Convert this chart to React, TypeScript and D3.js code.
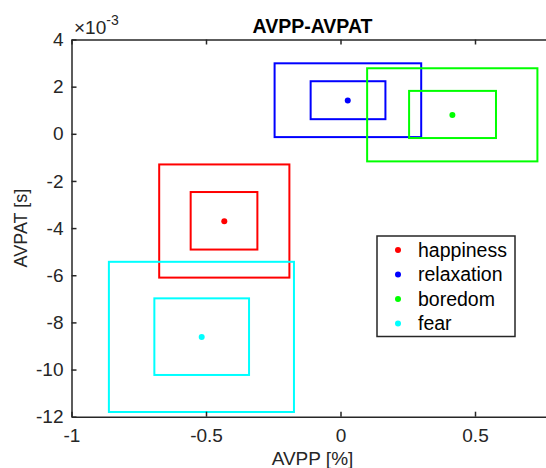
import * as d3 from 'd3';
import { useRef, useEffect } from 'react';

// per-emotion summary, AVPP in %, AVPAT in seconds
const emotions = ['happiness', 'relaxation', 'boredom', 'fear'];
const colors = ['#ff0000', '#0000ff', '#00ff00', '#00ffff'];

const meanX = [-0.432, 0.027, 0.416, -0.516];
const meanY = [-0.00371, 0.00141, 0.0008, -0.00862];

// inner box
const innerX0 = [-0.557, -0.111, 0.255, -0.692];
const innerX1 = [-0.309, 0.167, 0.578, -0.34];
const innerY0 = [-0.00491, 0.00062, -0.00018, -0.01023];
const innerY1 = [-0.00247, 0.00223, 0.00182, -0.00698];

// outer box
const outerX0 = [-0.674, -0.245, 0.099, -0.861];
const outerX1 = [-0.19, 0.3, 0.732, -0.173];
const outerY0 = [-0.0061, -0.00014, -0.00117, -0.0118];
const outerY1 = [-0.0013, 0.00299, 0.00278, -0.00543];

// the right part of the axes (x = 1) is cropped off in the figure
const xTicks = [-1, -0.5, 0, 0.5];
const yTicks = [-0.012, -0.01, -0.008, -0.006, -0.004, -0.002, 0, 0.002, 0.004];

function App() {
    const svgRef = useRef(null);
    const width = 546;
    const height = 468;

    useEffect(() => {
        const svg = d3.select(svgRef.current);
        svg.selectAll('*').remove();

        const font = '"Liberation Sans", Arial, Helvetica, sans-serif';
        const axisColor = '#262626';

        const x = d3.scaleLinear().domain([-1, 1]).range([71.5, 609.5]);
        const y = d3.scaleLinear().domain([-0.012, 0.004]).range([416.7, 39.5]);

        const g = svg.append('g');

        // Boxes and means
        emotions.forEach((name, i) => {
            g.append('rect')
                .attr('x', x(outerX0[i]))
                .attr('y', y(outerY1[i]))
                .attr('width', x(outerX1[i]) - x(outerX0[i]))
                .attr('height', y(outerY0[i]) - y(outerY1[i]))
                .attr('fill', 'none')
                .attr('stroke', colors[i])
                .attr('stroke-width', 2);
            g.append('rect')
                .attr('x', x(innerX0[i]))
                .attr('y', y(innerY1[i]))
                .attr('width', x(innerX1[i]) - x(innerX0[i]))
                .attr('height', y(innerY0[i]) - y(innerY1[i]))
                .attr('fill', 'none')
                .attr('stroke', colors[i])
                .attr('stroke-width', 2);
            g.append('circle')
                .attr('cx', x(meanX[i]))
                .attr('cy', y(meanY[i]))
                .attr('r', 3)
                .attr('fill', colors[i]);
        });

        // Axes (ticks point inward, MATLAB style)
        const styleAxis = sel => {
            sel.select('.domain').attr('stroke', axisColor).attr('stroke-width', 1.5);
            sel.selectAll('.tick line').attr('stroke', axisColor).attr('stroke-width', 1.5);
            sel.selectAll('text')
                .attr('fill', axisColor)
                .attr('font-family', font)
                .attr('font-size', 19);
        };

        g.append('g')
            .attr('transform', `translate(0,${y(-0.012)})`)
            .call(d3.axisBottom(x).tickValues(xTicks).tickSizeInner(-5).tickSizeOuter(0)
                .tickPadding(12).tickFormat(d => String(d)))
            .call(styleAxis);

        // top border line over the whole (cropped) width
        g.append('g')
            .attr('transform', `translate(0,${y(0.004)})`)
            .call(d3.axisTop(x).tickValues(xTicks).tickSizeInner(-5).tickSizeOuter(0).tickFormat(() => ''))
            .call(styleAxis);

        g.append('g')
            .attr('transform', `translate(${x(-1)},0)`)
            .call(d3.axisLeft(y).tickValues(yTicks).tickSizeInner(-5).tickSizeOuter(0)
                .tickPadding(8).tickFormat(d => String(Math.round(d * 1000))))
            .call(styleAxis);

        // Exponent label
        const expo = g.append('text')
            .attr('x', 74)
            .attr('y', 34)
            .attr('fill', axisColor)
            .attr('font-family', font)
            .attr('font-size', 19);
        expo.append('tspan').text('\u00d710');
        expo.append('tspan').attr('dy', -9).attr('font-size', 14).text('-3');

        // Title and axis labels
        g.append('text')
            .attr('x', 312.5)
            .attr('y', 33)
            .attr('text-anchor', 'middle')
            .attr('font-family', font)
            .attr('font-weight', 'bold')
            .attr('font-size', 19.5)
            .attr('fill', '#000')
            .text('AVPP-AVPAT');

        g.append('text')
            .attr('x', 312.5)
            .attr('y', 465)
            .attr('text-anchor', 'middle')
            .attr('font-family', font)
            .attr('font-size', 19)
            .attr('fill', axisColor)
            .text('AVPP [%]');

        g.append('text')
            .attr('transform', `translate(27,${(y(0.004) + y(-0.012)) / 2}) rotate(-90)`)
            .attr('text-anchor', 'middle')
            .attr('font-family', font)
            .attr('font-size', 18)
            .attr('fill', axisColor)
            .text('AVPAT [s]');

        // Legend
        const legend = g.append('g');
        legend.append('rect')
            .attr('x', 377)
            .attr('y', 236)
            .attr('width', 138)
            .attr('height', 100.5)
            .attr('fill', '#fff')
            .attr('stroke', axisColor)
            .attr('stroke-width', 1.5);
        emotions.forEach((name, i) => {
            const ry = 250 + i * 24.5;
            legend.append('circle')
                .attr('cx', 398)
                .attr('cy', ry)
                .attr('r', 3)
                .attr('fill', colors[i]);
            legend.append('text')
                .attr('x', 418)
                .attr('y', ry)
                .attr('dy', '0.35em')
                .attr('font-family', font)
                .attr('font-size', 19.5)
                .attr('fill', '#000')
                .text(name);
        });
    }, []);

    return (
        <svg
            ref={svgRef}
            width={width}
            height={height}
            style={{ position: 'absolute', left: 0, top: 0, background: '#fff' }}
        ></svg>
    );
}

export default App;
